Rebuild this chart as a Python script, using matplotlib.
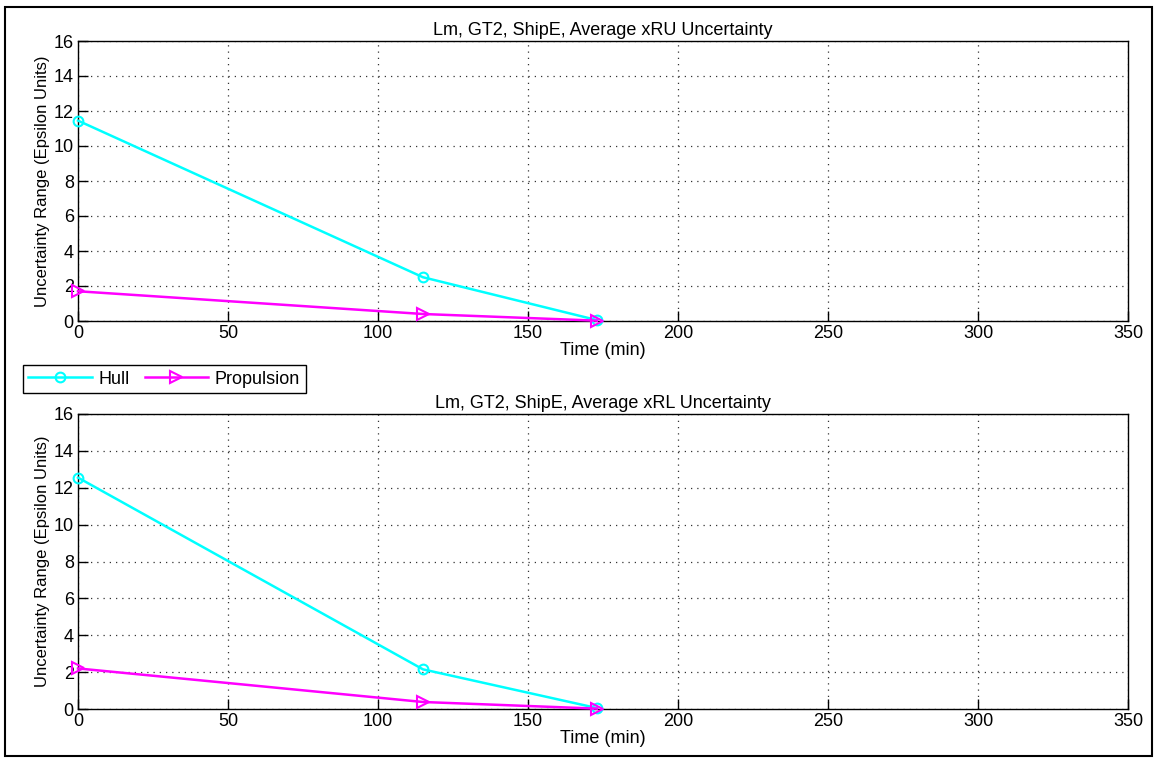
import matplotlib
matplotlib.use('Agg')
from matplotlib import pyplot as plt
from matplotlib.patches import Rectangle

plt.rcParams['font.family'] = ['Liberation Sans', 'DejaVu Sans']
plt.rcParams['font.size'] = 13

time_min = [0, 115, 173]
hull_xru = [11.45, 2.5, 0.05]
prop_xru = [1.7, 0.4, 0.02]
hull_xrl = [12.55, 2.15, 0.05]
prop_xrl = [2.2, 0.38, 0.02]

titles = ['Lm, GT2, ShipE, Average xRU Uncertainty',
          'Lm, GT2, ShipE, Average xRL Uncertainty']

W, H = 1158, 761
fig = plt.figure(figsize=(W / 100, H / 100), dpi=100)

# axes boxes in pixels: left, top, right, bottom
boxes = [(78, 41, 1128, 321), (78, 414, 1128, 709)]
series = [(hull_xru, prop_xru), (hull_xrl, prop_xrl)]

handles = None
for (l, t, r, b), (hull, prop), title in zip(boxes, series, titles):
    ax = fig.add_axes([l / W, 1 - b / H, (r - l) / W, (b - t) / H])
    h1, = ax.plot(time_min, hull, color='#00FFFF', lw=1.8, marker='o', ms=7,
                  mfc='none', mec='#00FFFF', mew=1.5, clip_on=False, zorder=3)
    h2, = ax.plot(time_min, prop, color='#FF00FF', lw=1.8, marker='>', ms=9,
                  mfc='none', mec='#FF00FF', mew=1.5, clip_on=False, zorder=3)
    handles = (h1, h2)
    ax.set_xlim(0, 350)
    ax.set_ylim(0, 16)
    ax.set_xticks(range(0, 351, 50))
    ax.set_yticks(range(0, 17, 2))
    ax.grid(True, linestyle=(0, (1, 4)), color='#333333', lw=0.9)
    ax.tick_params(direction='in', length=7, width=1, labelsize=13, pad=3)
    for s in ax.spines.values():
        s.set_linewidth(1)
    ax.set_title(title, fontsize=13, pad=4)
    ax.set_xlabel('Time (min)', fontsize=13, labelpad=0)
    ax.set_ylabel('Uncertainty Range (Epsilon Units)', fontsize=12, labelpad=3)

fig.legend(handles, ['Hull', 'Propulsion'], loc='lower left',
           bbox_to_anchor=(23 / W, 1 - 393 / H), ncol=2, fontsize=13,
           fancybox=False, edgecolor='black', framealpha=1,
           handlelength=3.5, columnspacing=0.8, handletextpad=0.4,
           borderpad=0.3, borderaxespad=0)

fig.patches.append(Rectangle((5 / W, 5 / H), 1147 / W, 749 / H, fill=False,
                             edgecolor='black', lw=1.5,
                             transform=fig.transFigure, figure=fig))

fig.savefig('out.png', dpi=100)
